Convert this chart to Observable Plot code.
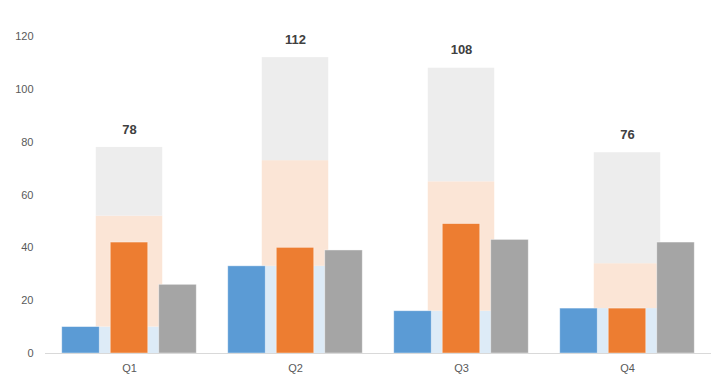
<!DOCTYPE html>
<html><head><meta charset="utf-8">
<script src="https://cdn.jsdelivr.net/npm/d3@7"></script>
<script src="https://cdn.jsdelivr.net/npm/@observablehq/plot@0.6"></script>
<style>body{margin:0;background:#fff}</style>
</head><body><div id="chart"></div>
<script>
const quarters = ["Q1", "Q2", "Q3", "Q4"];
const seriesNames = ["Series 1", "Series 2", "Series 3"];
const series1 = [10, 33, 16, 17];
const series2 = [42, 40, 49, 17];
const series3 = [26, 39, 43, 42];
const darkColors = ["#5B9BD5", "#ED7D31", "#A5A5A5"];
const lightColors = ["#DDEBF7", "#FBE5D6", "#EDEDED"];
const yTicks = [0, 20, 40, 60, 80, 100, 120];

const allSeries = [series1, series2, series3];
const rows = [];
quarters.forEach((q, qi) => {
  allSeries.forEach((s, si) => rows.push({q, series: seriesNames[si], si, v: s[qi]}));
});
const totals = quarters.map((q, qi) => ({q, total: series1[qi] + series2[qi] + series3[qi]}));

const bandW = (711 - 45) / 4;
const barW = 38, bgW = 67, step = 48.5;
const barInset = (bandW - barW) / 2;
const bgInset = (bandW - bgW) / 2;
const offsets = [-step, 0, step];

const marks = [
  Plot.barY(rows, {x: "q", y: "v", fill: "series", insetLeft: bgInset, insetRight: bgInset}),
  ...[0, 1, 2].map(si => Plot.barY(rows.filter(d => d.si === si), {
    x: "q", y: "v", fill: darkColors[si], dx: offsets[si],
    insetLeft: barInset, insetRight: barInset,
    stroke: "#ffffff", strokeOpacity: 0.5, strokeWidth: 0.8
  })),
  Plot.ruleY([0], {stroke: "#d9d9d9", strokeWidth: 1}),
  Plot.text(totals, {x: "q", y: "total", text: d => String(d.total), dy: -18,
    fontWeight: "bold", fontSize: 13, fill: "#404040"}),
  Plot.axisY({ticks: yTicks, tickSize: 0, tickPadding: 12, fontSize: 11, label: null}),
  Plot.axisX({tickSize: 0, tickPadding: 11, fontSize: 11, label: null})
];

const chart = Plot.plot({
  width: 722, height: 387,
  marginLeft: 45, marginRight: 11, marginTop: 36, marginBottom: 34,
  x: {domain: quarters, padding: 0},
  y: {domain: [0, 120]},
  color: {domain: seriesNames, range: lightColors},
  style: {fontFamily: "'Liberation Sans', Arial, sans-serif", color: "#595959", background: "#fff"},
  marks
});
document.getElementById("chart").appendChild(chart);
</script>
</body></html>
